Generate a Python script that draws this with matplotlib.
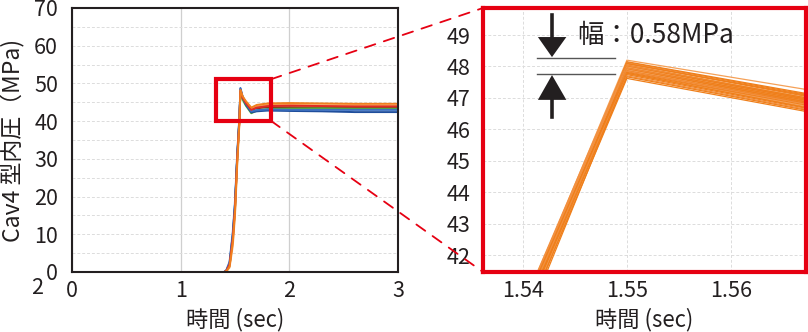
import matplotlib
matplotlib.use('Agg')
import matplotlib.pyplot as plt
from matplotlib.patches import Rectangle, Polygon, ConnectionPatch
from matplotlib.ticker import MultipleLocator
from matplotlib.lines import Line2D

plt.rcParams['font.family'] = ['Noto Sans CJK JP', 'DejaVu Sans']

TXT = '#231f20'
RED = '#e60012'

# ---------------- data: overall waveform (left) ----------------
time_s = [0.0, 1.40, 1.42, 1.45, 1.48, 1.50, 1.52, 1.54, 1.55, 1.57, 1.60, 1.65,
          1.70, 1.80, 2.00, 2.30, 2.60, 3.00]
series_colors = ['#8c3b16', '#7ea6dc', '#5aac36', '#1f4e9c', '#3c6fc0',
                 '#f4a259', '#e02a24', '#f07f1e']
series_values = [
    [0, 0, 0.2, 1.6, 9, 17, 30, 40.0, 48.2, 46.4, 44.9, 43.0, 43.4, 43.7, 43.7, 43.6, 43.6, 43.6],
    [0, 0, 0.5, 2.8, 11, 19, 31, 40.5, 48.4, 46.2, 44.5, 42.5, 42.9, 43.0, 43.2, 43.1, 43.0, 43.0],
    [0, 0, 0.2, 1.8, 9, 17, 30, 40.2, 47.6, 45.7, 44.1, 42.1, 42.8, 43.2, 43.3, 43.4, 43.3, 43.3],
    [0, 0, 0.3, 2.2, 10, 18, 30, 40.6, 48.6, 46.3, 44.4, 42.3, 42.6, 42.8, 42.7, 42.6, 42.4, 42.4],
    [0, 0, 0.4, 2.5, 10, 18, 31, 41.0, 48.8, 46.5, 44.7, 42.6, 42.9, 43.1, 43.0, 43.0, 43.0, 43.0],
    [0, 0, 0.1, 1.2, 7, 15, 28, 39.0, 48.1, 46.4, 45.0, 43.3, 43.9, 44.3, 44.3, 44.2, 44.2, 44.1],
    [0, 0, 0.3, 2.0, 9, 17, 30, 40.0, 48.0, 46.2, 44.8, 43.0, 43.6, 44.0, 44.1, 44.0, 43.9, 43.9],
    [0, 0, 0.2, 1.5, 8, 16, 29, 39.5, 48.3, 46.6, 45.3, 43.6, 44.3, 44.7, 44.8, 44.7, 44.6, 44.6],
]
left_xticks = [0, 1, 2, 3]
left_yticks = [0, 10, 20, 30, 40, 50, 60, 70]

# ---------------- data: zoom around peak (right) ----------------
zoom_time = [1.54, 1.55, 1.57]
zoom_v154 = [40.3, 39.9, 40.1, 40.4, 39.8, 40.0, 40.2, 39.7, 40.1, 40.3,
             39.9, 40.0, 40.2, 39.8, 40.1, 40.4, 39.9, 40.0, 39.7, 40.2,
             40.1, 39.8, 40.3, 40.0, 39.9, 40.1, 39.6, 40.2, 40.0, 39.8]
zoom_peak = [48.20, 48.15, 48.13, 48.11, 48.08, 48.09, 48.05, 48.04, 48.02, 48.03,
             48.00, 47.97, 47.98, 47.95, 47.93, 47.94, 47.91, 47.88, 47.89, 47.86,
             47.84, 47.85, 47.81, 47.79, 47.77, 47.78, 47.74, 47.70, 47.67, 47.62]
zoom_v157 = [47.12, 46.98, 46.95, 46.90, 46.93, 46.88, 46.85, 46.80, 46.84, 46.78,
             46.80, 46.75, 46.72, 46.76, 46.70, 46.68, 46.71, 46.66, 46.62, 46.65,
             46.60, 46.63, 46.58, 46.55, 46.57, 46.52, 46.50, 46.47, 46.44, 46.40]
zoom_colors = ['#f5a158', '#ef7f1a', '#ef7f1a', '#f29040', '#ef7f1a', '#ef7f1a']
zoom_xticks = [1.54, 1.55, 1.56]
zoom_xlabels = ['1.54', '1.55', '1.56']
zoom_yticks = [42, 43, 44, 45, 46, 47, 48, 49]

# ---------------- figure ----------------
W, H = 808, 332
fig = plt.figure(figsize=(W / 100, H / 100), dpi=100)

def rect(l, t, r, b):
    return [l / W, 1 - b / H, (r - l) / W, (b - t) / H]

ax = fig.add_axes(rect(72, 8, 398, 272))
axz = fig.add_axes(rect(483, 8, 806, 272))

# left chart
for vals, c in zip(series_values, series_colors):
    ax.plot(time_s, vals, color=c, lw=1.4, solid_joinstyle='round')
ax.set_xlim(0, 3)
ax.set_ylim(0, 70)
ax.set_xticks(left_xticks)
ax.set_yticks(left_yticks)
ax.yaxis.set_minor_locator(MultipleLocator(5))
ax.grid(axis='x', which='major', color='#cfcfcf', lw=0.9, ls='-')
ax.grid(axis='y', which='both', color='#dcdcdc', lw=0.7, ls=(0, (3, 2)))
ax.set_axisbelow(True)
ax.tick_params(which='both', length=0, labelsize=15.5, colors=TXT)
ax.tick_params(axis='y', pad=10)
ax.tick_params(axis='x', pad=6)
for s in ax.spines.values():
    s.set_color(TXT)
    s.set_linewidth(1.5)
ax.set_xlabel('時間 (sec)', fontsize=16, color=TXT, labelpad=4)
ax.set_ylabel('Cav4 型内圧（MPa)', fontsize=16.5, color=TXT, labelpad=6)

ax.add_patch(Rectangle((1.325, 40.1), 0.505, 11.0, fill=False, ec=RED, lw=3,
                       zorder=6, clip_on=False))

# right zoom chart
for i, (a, p, b) in enumerate(zip(zoom_v154, zoom_peak, zoom_v157)):
    axz.plot(zoom_time, [a, p, b], color=zoom_colors[i % len(zoom_colors)], lw=0.9)
axz.set_xlim(1.53614, 1.56725)
axz.set_ylim(41.46, 49.86)
axz.set_xticks(zoom_xticks)
axz.set_xticklabels(zoom_xlabels)
axz.set_yticks(zoom_yticks)
axz.grid(True, color='#dcdcdc', lw=0.7, ls=(0, (3, 2)))
axz.set_axisbelow(True)
axz.tick_params(length=0, labelsize=15.5, colors=TXT)
axz.tick_params(axis='y', pad=9)
axz.tick_params(axis='x', pad=6)
for s in axz.spines.values():
    s.set_color(RED)
    s.set_linewidth(3)
    s.set_zorder(6)
axz.set_xlabel('時間 (sec)', fontsize=16, color=TXT, labelpad=4)

# width annotation (axes fraction)
tr = axz.transAxes
ANN = '#231f20'
axz.add_line(Line2D([0.167, 0.409], [0.811, 0.811], transform=tr, color='#555555', lw=1.0))
axz.add_line(Line2D([0.167, 0.409], [0.750, 0.750], transform=tr, color='#555555', lw=1.0))
axz.add_line(Line2D([0.2136, 0.2136], [0.973, 0.88], transform=tr, color=ANN, lw=2.6))
axz.add_patch(Polygon([[0.170, 0.890], [0.258, 0.890], [0.2136, 0.814]], closed=True,
                      transform=tr, color=ANN, lw=0))
axz.add_line(Line2D([0.2136, 0.2136], [0.587, 0.66], transform=tr, color=ANN, lw=2.6))
axz.add_patch(Polygon([[0.170, 0.652], [0.258, 0.652], [0.2136, 0.746]], closed=True,
                      transform=tr, color=ANN, lw=0))
axz.text(0.292, 0.895, '幅：0.58MPa', transform=tr, fontsize=19, color=TXT,
         ha='left', va='center')

# dashed connectors
for ya, yb in [(51.1, 1.0), (40.1, 0.0)]:
    con = ConnectionPatch(xyA=(1.83, ya), coordsA=ax.transData,
                          xyB=(0.0, yb), coordsB=axz.transAxes,
                          color=RED, lw=1.3, ls=(0, (6, 5)), zorder=1)
    fig.add_artist(con)

fig.text(37 / W, 1 - 288 / H, '2', fontsize=15.5, color=TXT, ha='center', va='center')

fig.savefig('out.png', dpi=100)
